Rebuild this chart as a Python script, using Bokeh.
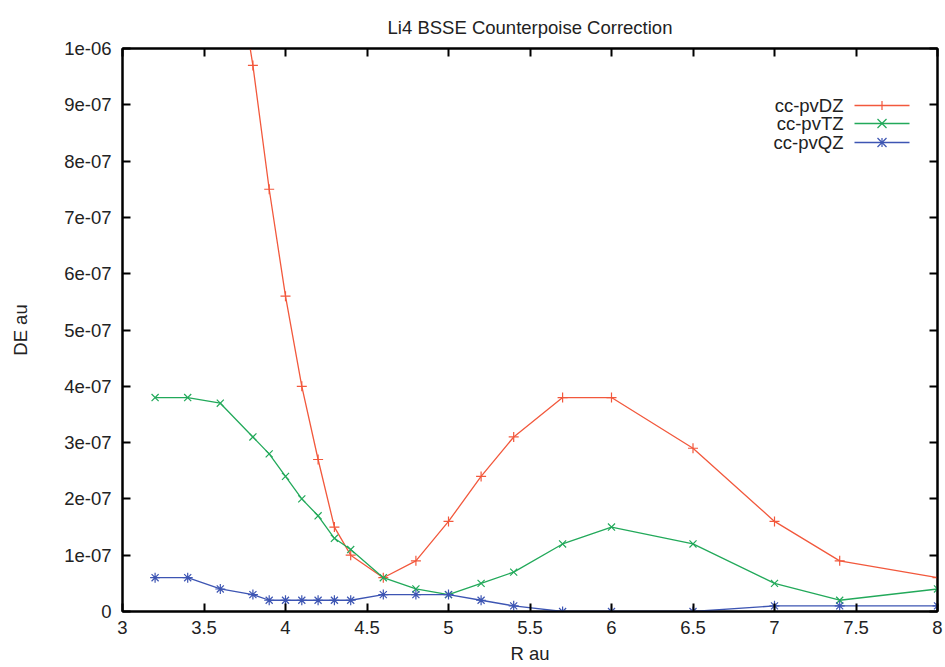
from bokeh.plotting import figure
from bokeh.models import (LinearAxis, FixedTicker, Label, Arrow, Range1d, CustomJSTickFormatter,
                          CustomLabelingPolicy)
from bokeh.embed import file_html
from bokeh.resources import INLINE

# ---------------- data ----------------
title_text = "Li4 BSSE Counterpoise Correction"
x_label = "R au"
y_label = "DE au"

series_names = ["cc-pvDZ", "cc-pvTZ", "cc-pvQZ"]

dz_r = [3.6, 3.8, 3.9, 4.0, 4.1, 4.2, 4.3, 4.4, 4.6, 4.8, 5.0, 5.2, 5.4, 5.7, 6.0, 6.5, 7.0, 7.4, 8.0]
dz_de = [1.33e-6, 9.7e-7, 7.5e-7, 5.6e-7, 4.0e-7, 2.7e-7, 1.5e-7, 1.0e-7, 6e-8, 9e-8,
         1.6e-7, 2.4e-7, 3.1e-7, 3.8e-7, 3.8e-7, 2.9e-7, 1.6e-7, 9e-8, 6e-8]

tz_r = [3.2, 3.4, 3.6, 3.8, 3.9, 4.0, 4.1, 4.2, 4.3, 4.4, 4.6, 4.8, 5.0, 5.2, 5.4, 5.7, 6.0, 6.5, 7.0, 7.4, 8.0]
tz_de = [3.8e-7, 3.8e-7, 3.7e-7, 3.1e-7, 2.8e-7, 2.4e-7, 2.0e-7, 1.7e-7, 1.3e-7, 1.1e-7, 6e-8,
         4e-8, 3e-8, 5e-8, 7e-8, 1.2e-7, 1.5e-7, 1.2e-7, 5e-8, 2e-8, 4e-8]

qz_r = [3.2, 3.4, 3.6, 3.8, 3.9, 4.0, 4.1, 4.2, 4.3, 4.4, 4.6, 4.8, 5.0, 5.2, 5.4, 5.7, 6.0, 6.5, 7.0, 7.4, 8.0]
qz_de = [6e-8, 6e-8, 4e-8, 3e-8, 2e-8, 2e-8, 2e-8, 2e-8, 2e-8, 2e-8, 3e-8,
         3e-8, 3e-8, 2e-8, 1e-8, 0.0, 0.0, 0.0, 1e-8, 1e-8, 1e-8]

x_ticks = [3, 3.5, 4, 4.5, 5, 5.5, 6, 6.5, 7, 7.5, 8]
x_tick_labels = ["3", "3.5", "4", "4.5", "5", "5.5", "6", "6.5", "7", "7.5", "8"]
y_ticks = [0.0, 1e-7, 2e-7, 3e-7, 4e-7, 5e-7, 6e-7, 7e-7, 8e-7, 9e-7, 1e-6]
y_tick_labels = ["0", "1e-07", "2e-07", "3e-07", "4e-07", "5e-07", "6e-07", "7e-07", "8e-07", "9e-07", "1e-06"]

# ---------------- style ----------------
FONT = "Liberation Sans"
FS = "18.5px"
colors = ["#f2583c", "#22a95a", "#3d55b3"]
markers = ["cross", "x", "asterisk"]

p = figure(width=945, height=667, output_backend="svg", toolbar_location=None,
           x_range=Range1d(3, 8), y_range=Range1d(0, 1e-6),
           min_border_left=122, min_border_right=8, min_border_top=48, min_border_bottom=56)
p.title.text = title_text
p.title.align = "center"
p.title.vertical_align = "top"
p.title.text_font = FONT
p.title.text_font_size = FS
p.title.text_font_style = "normal"
p.title.text_color = "#222222"
p.title.standoff = 18

p.grid.visible = False
p.background_fill_color = "white"
p.border_fill_color = "white"
p.outline_line_color = "black"
p.outline_line_width = 2

fmt_js = """
for (let i = 0; i < tvals.length; i++) {
  if (Math.abs(tvals[i] - tick) <= tol) { return tlabels[i]; }
}
return "";
"""
x_fmt = CustomJSTickFormatter(args=dict(tvals=x_ticks, tlabels=x_tick_labels, tol=1e-6), code=fmt_js)
y_fmt = CustomJSTickFormatter(args=dict(tvals=y_ticks, tlabels=y_tick_labels, tol=1e-12), code=fmt_js)

hide_all = CustomLabelingPolicy(code="""
const ids = Array.from(indices);
for (const i of ids) { indices.unset(i); }
return indices;
""")

def style_axis(ax, ticks, fmt, show_labels):
    ax.ticker = FixedTicker(ticks=ticks)
    ax.formatter = fmt
    ax.major_tick_in = 8
    ax.major_tick_out = 0
    ax.minor_tick_in = 0
    ax.minor_tick_out = 0
    ax.major_tick_line_color = "black"
    ax.major_tick_line_width = 2
    ax.axis_line_color = "black"
    ax.axis_line_width = 2
    ax.major_label_text_font = FONT
    ax.axis_label_text_font = FONT
    ax.axis_label_text_font_style = "normal"
    ax.axis_label_text_color = "#222222"
    ax.major_label_text_color = "#222222"
    ax.axis_label_text_font_size = FS
    if show_labels:
        ax.major_label_text_font_size = FS
    else:
        ax.major_label_text_font_size = "0px"
        ax.major_label_policy = hide_all
        ax.major_label_standoff = 0

xa = p.xaxis[0]
ya = p.yaxis[0]
style_axis(xa, x_ticks, x_fmt, True)
style_axis(ya, y_ticks, y_fmt, True)
xa.axis_label = x_label
ya.axis_label = y_label
xa.major_label_standoff = 9
ya.major_label_standoff = 11
xa.axis_label_standoff = 6
ya.axis_label_standoff = 30

top_ax = LinearAxis()
right_ax = LinearAxis()
style_axis(top_ax, x_ticks, x_fmt, False)
style_axis(right_ax, y_ticks, y_fmt, False)
p.add_layout(top_ax, "above")
p.add_layout(right_ax, "right")

all_r = [dz_r, tz_r, qz_r]
all_de = [dz_de, tz_de, qz_de]
for r, de, c, m in zip(all_r, all_de, colors, markers):
    p.line(r, de, line_color=c, line_width=1.3)
    p.scatter(r, de, marker=m, size=10, line_color=c, line_width=1.2, fill_color=None)

# ---------------- legend (gnuplot style: text left, sample right) ----------------
leg_text_x = 721      # screen px from frame left
leg_line_x0 = 732
leg_line_x1 = 787
leg_rows_y = [506, 488, 469]  # screen px from frame bottom
mk = 4.5
for name, c, m, yy in zip(series_names, colors, markers, leg_rows_y):
    p.add_layout(Label(x=leg_text_x, y=yy, x_units="screen", y_units="screen", text=name,
                       text_align="right", text_baseline="middle", text_font=FONT,
                       text_font_size=FS, text_color="#222222"))
    p.add_layout(Arrow(start=None, end=None, x_start=leg_line_x0, y_start=yy, x_end=leg_line_x1, y_end=yy,
                       start_units="screen", end_units="screen", line_color=c, line_width=1.3))
    xm = (leg_line_x0 + leg_line_x1) / 2
    segs = []
    if m in ("cross", "asterisk"):
        segs += [(xm - mk, yy, xm + mk, yy), (xm, yy - mk, xm, yy + mk)]
    if m in ("x", "asterisk"):
        segs += [(xm - mk, yy - mk, xm + mk, yy + mk), (xm - mk, yy + mk, xm + mk, yy - mk)]
    for (a, b, cc, d) in segs:
        p.add_layout(Arrow(start=None, end=None, x_start=a, y_start=b, x_end=cc, y_end=d,
                           start_units="screen", end_units="screen", line_color=c, line_width=1.2))

open("out.html", "w").write(file_html(p, INLINE))
